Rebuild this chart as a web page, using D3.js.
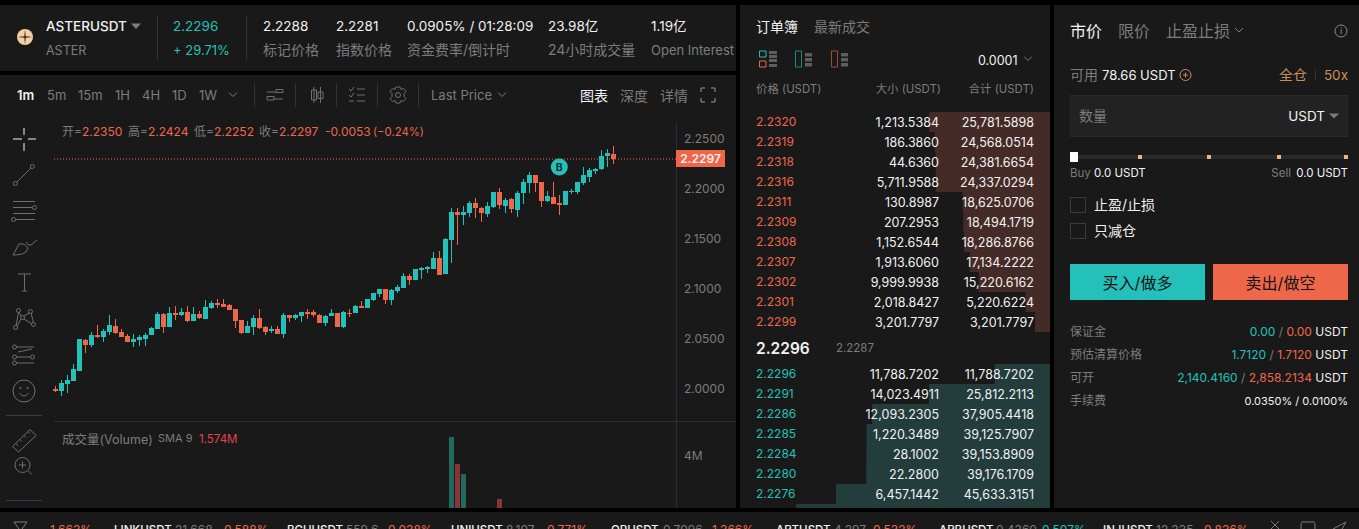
<!DOCTYPE html>
<html>
<head>
<meta charset="utf-8">
<script src="https://cdn.jsdelivr.net/npm/d3@7"></script>
<style>
  html, body { margin: 0; padding: 0; background: #000; overflow: hidden; }
  svg { display: block; }
  text { font-family: Inter, "Noto Sans CJK SC", sans-serif; white-space: pre; }
</style>
</head>
<body>
<svg id="root" width="1359" height="529"></svg>
<script>
// candles
const opens = [1.9997,1.9977,2.0047,2.0077,2.0177,2.0487,2.0437,2.0537,2.0517,2.0567,2.0627,2.0567,2.0527,2.0467,2.0487,2.0497,2.0537,2.0597,2.0747,2.0617,2.0757,2.0737,2.0767,2.0677,2.0747,2.0697,2.0807,2.0857,2.0847,2.0837,2.0797,2.0687,2.0557,2.0617,2.0707,2.0617,2.0577,2.0597,2.0547,2.0737,2.0707,2.0727,2.0767,2.0767,2.0737,2.0657,2.0727,2.0757,2.0617,2.0757,2.0757,2.0827,2.0807,2.0887,2.0947,2.0997,2.0887,2.0977,2.1007,2.1127,2.1087,2.1187,2.1197,2.1197,2.1307,2.1147,2.1487,2.1767,2.1737,2.1757,2.1857,2.1807,2.1747,2.1817,2.1967,2.1827,2.1897,2.1787,2.1957,2.2057,2.2137,2.2067,2.1877,2.1917,2.1857,2.1837,2.1967,2.1967,2.2057,2.2117,2.2177,2.2197,2.2327,2.2350];
const highs = [2.0027,2.0084,2.0134,2.0247,2.0497,2.0497,2.0567,2.0637,2.0594,2.0737,2.0697,2.0594,2.0544,2.0547,2.0537,2.0557,2.0617,2.0767,2.0757,2.0817,2.0827,2.0807,2.0827,2.0817,2.0777,2.0887,2.0877,2.0897,2.0897,2.0847,2.0797,2.0687,2.0677,2.0737,2.0797,2.0627,2.0627,2.0627,2.0757,2.0737,2.0747,2.0767,2.0797,2.0787,2.0747,2.0737,2.0797,2.0757,2.0777,2.0797,2.0837,2.0877,2.0897,2.0957,2.0997,2.0997,2.0997,2.1037,2.1157,2.1147,2.1197,2.1217,2.1227,2.1367,2.1377,2.1507,2.1807,2.1807,2.1827,2.1877,2.1907,2.1817,2.1867,2.1967,2.2007,2.1907,2.1907,2.1977,2.2097,2.2167,2.2137,2.2067,2.1977,2.2067,2.1937,2.1977,2.1997,2.2067,2.2217,2.2207,2.2207,2.2387,2.2397,2.2424];
const lows = [1.9967,1.9927,1.9957,2.0077,2.0177,2.0357,2.0417,2.0507,2.0467,2.0537,2.0547,2.0517,2.0467,2.0417,2.0427,2.0427,2.0537,2.0597,2.0557,2.0617,2.0687,2.0727,2.0667,2.0677,2.0697,2.0697,2.0797,2.0807,2.0817,2.0787,2.0607,2.0547,2.0557,2.0537,2.0597,2.0537,2.0557,2.0547,2.0507,2.0667,2.0687,2.0667,2.0697,2.0717,2.0657,2.0627,2.0727,2.0617,2.0607,2.0717,2.0757,2.0807,2.0807,2.0877,2.0917,2.0847,2.0837,2.0957,2.1007,2.1037,2.1087,2.1097,2.1157,2.1197,2.1137,2.1147,2.1257,2.1437,2.1637,2.1717,2.1707,2.1667,2.1717,2.1807,2.1797,2.1757,2.1757,2.1717,2.1847,2.1957,2.1967,2.1817,2.1867,2.1847,2.1737,2.1837,2.1947,2.1947,2.2037,2.2067,2.2147,2.2187,2.2217,2.2252];
const closes = [1.9977,2.0057,2.0087,2.0197,2.0497,2.0437,2.0537,2.0517,2.0577,2.0637,2.0557,2.0517,2.0467,2.0497,2.0517,2.0537,2.0607,2.0747,2.0617,2.0757,2.0737,2.0767,2.0677,2.0747,2.0707,2.0817,2.0857,2.0837,2.0817,2.0787,2.0677,2.0557,2.0627,2.0707,2.0607,2.0567,2.0597,2.0547,2.0737,2.0707,2.0737,2.0767,2.0747,2.0737,2.0657,2.0727,2.0757,2.0617,2.0767,2.0747,2.0827,2.0807,2.0897,2.0957,2.0997,2.0887,2.0987,2.1017,2.1127,2.1087,2.1197,2.1207,2.1217,2.1307,2.1137,2.1497,2.1767,2.1737,2.1767,2.1857,2.1807,2.1757,2.1827,2.1967,2.1837,2.1887,2.1797,2.1957,2.2067,2.2137,2.2057,2.1877,2.1927,2.1847,2.1837,2.1977,2.1977,2.2067,2.2137,2.2187,2.2197,2.2327,2.2357,2.2297];
const priceTicks = [2.25, 2.2, 2.15, 2.1, 2.05, 2.0];
const lastPrice = 2.2297;

// only these volume bars reach into the visible part of the pane
const volumeIndex = [66, 67, 68, 74];
const volumeValues = [4.72e6, 3.68e6, 3.3e6, 2.35e6];
const volumeTicks = [4e6];

// order book
const askPrices = ["2.2320","2.2319","2.2318","2.2316","2.2311","2.2309","2.2308","2.2307","2.2302","2.2301","2.2299"];
const askSizes = ["1,213.5384","186.3860","44.6360","5,711.9588","130.8987","207.2953","1,152.6544","1,913.6060","9,999.9938","2,018.8427","3,201.7797"];
const askTotals = [25781.5898,24568.0514,24381.6654,24337.0294,18625.0706,18494.1719,18286.8766,17134.2222,15220.6162,5220.6224,3201.7797];
const bidPrices = ["2.2296","2.2291","2.2286","2.2285","2.2284","2.2280","2.2276"];
const bidSizes = ["11,788.7202","14,023.4911","12,093.2305","1,220.3489","28.1002","22.2800","6,457.1442"];
const bidTotals = [11788.7202,25812.2113,37905.4418,39125.7907,39153.8909,39176.1709,45633.3151];
const nextBidTotal = 54160;

// header stats
const statValues = ["2.2288","2.2281","0.0905% / 01:28:09","23.98亿","1.19亿"];
const statNames = ["标记价格","指数价格","资金费率/倒计时","24小时成交量","Open Interest"];
const statX = [263, 336, 407, 548, 651];

const intervals = ["1m","5m","15m","1H","4H","1D","1W"];
const intervalX = [17, 47, 78, 115, 142, 172, 199];

// ticker strip
const tickerNames = ["LINKUSDT","BCHUSDT","UNIUSDT","OPUSDT","ARTUSDT","ARBUSDT","INJUSDT"];
const tickerPrices = ["21.668","559.6","8.107","0.7096","4.297","0.4360","12.335"];
const tickerChanges = ["0.588%","0.038%","0.771%","1.366%","0.532%","0.507%","0.836%"];
const tickerX = [[114,175,224],[287,346,388],[451,506,547],[611,663,712],[776,834,873],[939,996,1042],[1103,1156,1204]];

const GREEN = "#23c1b9", RED = "#ee674b", PANEL = "#191919", GREY = "#7c7c7c", WHITE = "#f2f2f2", TAN = "#c98f5a", ICON = "#6f6f6f";

const svg = d3.select("#root");

function label(parent, x, y, str, color, size, anchor, weight) {
    return parent.append("text")
        .attr("x", x)
        .attr("y", y)
        .attr("dy", "0.36em")
        .attr("fill", color)
        .attr("font-size", size + "px")
        .attr("font-weight", weight || 400)
        .attr("text-anchor", anchor || "start")
        .text(str);
}

function rect(parent, x, y, w, h, fill) {
    return parent.append("rect").attr("x", x).attr("y", y).attr("width", w).attr("height", h).attr("fill", fill);
}

function stroke(parent, d, color, width) {
    return parent.append("path").attr("d", d).attr("fill", "none").attr("stroke", color || ICON).attr("stroke-width", width || 1);
}

function ring(parent, cx, cy, r, color) {
    return parent.append("circle").attr("cx", cx).attr("cy", cy).attr("r", r).attr("fill", "none").attr("stroke", color || ICON);
}

function chevron(parent, x, y, color) {
    stroke(parent, `M${x} ${y - 2}L${x + 4} ${y + 2}L${x + 8} ${y - 2}`, color || GREY);
}

// panels
rect(svg, 0, 5, 736, 66, PANEL);
rect(svg, 0, 75, 736, 433, PANEL);
rect(svg, 740, 5, 310, 503, PANEL);
rect(svg, 1054, 5, 305, 503, PANEL);
rect(svg, 0, 512, 1359, 17, PANEL);

// header
const header = svg.append("g");
header.append("circle").attr("cx", 25).attr("cy", 37).attr("r", 8).attr("fill", "#f6cfa3");
header.append("path").attr("d", "M25 29.5L25.7 36.3L32.5 37L25.7 37.7L25 44.5L24.3 37.7L17.5 37L24.3 36.3Z").attr("fill", "#33291f");
label(header, 46, 26, "ASTERUSDT", WHITE, 13.5, "start", 500);
header.append("path").attr("d", "M131 23.5H141L136 29Z").attr("fill", GREY);
label(header, 46, 50, "ASTER", GREY, 12.5);
rect(header, 157, 16, 1, 44, "#333");
label(header, 173, 26, "2.2296", GREEN, 13.5);
label(header, 173, 50, "+ 29.71%", GREEN, 13);
rect(header, 246, 16, 1, 44, "#333");
statX.forEach((x, i) => {
    label(header, x, 26, statValues[i], WHITE, 13.5);
    label(header, x, 50, statNames[i], GREY, i == 4 ? 13 : 14);
});

// chart toolbar
const bar = svg.append("g");
intervals.forEach((d, i) => {
    label(bar, intervalX[i], 95.5, d, i == 0 ? WHITE : GREY, 13, "start", i == 0 ? 600 : 400);
});
chevron(bar, 229, 94.5);
[254, 295, 336, 377, 418].forEach(x => rect(bar, x, 83, 1, 24, "#333"));
stroke(bar, "M267 92H276M283 89.5V92.5H276V89.5H283ZM283 99H274M267 96.5H274V100H267Z");
stroke(bar, "M314 87V103M320.5 87V103M311.5 90H316.5V100H311.5ZM318 92H323V98.5H318Z");
stroke(bar, "M349 89L351 91L354 87M357 89H365M349 95L351 97L354 93M357 95H365M349 101H354M357 101H365");
// gear
stroke(bar, "M396 87H400L401 89.5L403.5 88.5L406 91.5L404 93.5V96.5L406 98.5L403.5 101.5L401 100.5L400 103H396L395 100.5L392.5 101.5L390 98.5L392 96.5V93.5L390 91.5L392.5 88.5L395 89.5Z");
ring(bar, 398, 95, 2.5);
label(bar, 431, 95.5, "Last Price", GREY, 13);
chevron(bar, 498, 94.5);
label(bar, 580, 95.5, "图表", WHITE, 14);
label(bar, 620, 95.5, "深度", GREY, 14);
label(bar, 660, 95.5, "详情", GREY, 14);
stroke(bar, "M701 92V88H705M711 88H715V92M715 98V102H711M705 102H701V98", "#999");

// left drawing tools
const tools = svg.append("g");
stroke(tools, "M13 139H22M28 139H36M24 128V135M24 143V151", WHITE);
ring(tools, 15.3, 183.5, 2);
ring(tools, 32.3, 166.5, 2);
stroke(tools, "M17 182L31 168");
stroke(tools, "M13 201.5H35M13 207.5H32M13 213.5H35M16 219.5H35");
ring(tools, 34.5, 207.5, 2);
ring(tools, 13.5, 219.5, 2);
stroke(tools, "M13 255L19 244Q25 243 28 248L26 252Q22 255 13 255ZM26 242Q28 246 31 245L37 240");
stroke(tools, "M18 274H31M24.5 274V291M22 291H27");
[[18.5, 310.5], [30.5, 311.5], [22.5, 317.5], [15.5, 327.5], [33.5, 324.5]].forEach(d => ring(tools, d[0], d[1], 2));
stroke(tools, "M18.5 312.5L16 325.5M19 312.5L21.5 316M29.5 313L24 316M24 319L32 324M31 313L33.5 322.5M21 319L17 326");
stroke(tools, "M16 347H34M16 357H30M16 363H34M18 352L32 349", ICON);
ring(tools, 14.5, 347, 2);
ring(tools, 14.5, 357, 2);
ring(tools, 32.5, 357, 2);
ring(tools, 14.5, 363, 2);
ring(tools, 24, 391, 11);
stroke(tools, "M19.5 393Q24 399 28.5 393");
tools.append("circle").attr("cx", 20.5).attr("cy", 388).attr("r", 1).attr("fill", ICON);
tools.append("circle").attr("cx", 27.5).attr("cy", 388).attr("r", 1).attr("fill", ICON);
rect(tools, 6, 415, 36, 1, "#3b3b46");
stroke(tools, "M12.5 446.5L30 429.5L36 435.5L18.5 452ZM16 443.5L18 446M20 439.5L22 441.5M24 435.5L26 437.5M28 431.5L30 433.5");
ring(tools, 22.5, 465, 7.5);
stroke(tools, "M19 465H26M22.5 461.5V468.5M28 470.5L32 474.5");
rect(tools, 6, 500, 36, 1, "#3b3b46");

// price scales
const x = d3.scaleLinear().domain([0, 93]).range([55.5, 613.5]);
const y = d3.scaleLinear().domain([2.0, 2.25]).range([388.7, 138.7]);
const yVolume = d3.scaleLinear().domain([0, 4e6]).range([559.7, 455.7]);

const chart = svg.append("g");
rect(chart, 676, 122, 1, 386, "#2e2e2e");
rect(chart, 54, 421, 682, 1, "#2e2e2e");

const priceAxis = d3.axisRight(y).tickValues(priceTicks).tickSize(0).tickPadding(8).tickFormat(d3.format(".4f"));
chart.append("g")
    .attr("transform", "translate(676,0)")
    .call(priceAxis)
    .call(g => g.select(".domain").remove())
    .call(g => g.selectAll("text").attr("fill", GREY).attr("font-size", "12px").attr("font-family", null));

// last price line
chart.append("line")
    .attr("x1", 54).attr("x2", 676)
    .attr("y1", y(lastPrice)).attr("y2", y(lastPrice))
    .attr("stroke", RED)
    .attr("stroke-dasharray", "1,2");

// candles
const candles = chart.selectAll(".candle")
    .data(d3.range(opens.length))
    .enter().append("g")
    .attr("class", "candle")
    .attr("shape-rendering", "crispEdges")
    .attr("fill", i => closes[i] >= opens[i] ? GREEN : RED);
candles.append("rect")
    .attr("x", i => x(i) - 0.5)
    .attr("y", i => y(highs[i]))
    .attr("width", 1)
    .attr("height", i => y(lows[i]) - y(highs[i]));
candles.append("rect")
    .attr("x", i => x(i) - 2.5)
    .attr("y", i => y(Math.max(opens[i], closes[i])))
    .attr("width", 5)
    .attr("height", i => Math.max(1, Math.abs(y(opens[i]) - y(closes[i]))));

// buy marker
chart.append("circle").attr("cx", x(84) - 0.2).attr("cy", 167).attr("r", 8.5).attr("fill", GREEN);
label(chart, x(84) - 0.2, 167, "B", "#0f2b2a", 10.5, "middle", 700);

// price tag
rect(chart, 676, 150, 49, 17, RED);
label(chart, 700.5, 158.7, "2.2297", WHITE, 12, "middle", 600);

// ohlc legend
const legendKeys = ["开=", "高=", "低=", "收="];
const legendVals = [opens[93], highs[93], lows[93], closes[93]];
const legendX = [62, 128, 194, 259];
legendKeys.forEach((k, i) => {
    const t = label(chart, legendX[i], 132, k, GREY, 12);
    t.append("tspan").attr("fill", RED).text(legendVals[i].toFixed(4));
});
label(chart, 325, 132, "-0.0053", RED, 12);
label(chart, 373, 132, "(−0.24%)", RED, 11.3);

// volume pane
label(chart, 62, 439, "成交量(Volume)", GREY, 12.5);
label(chart, 158, 438, "SMA 9", GREY, 11);
label(chart, 199, 439, "1.574M", "#e8414f", 11.5);
const volAxis = d3.axisRight(yVolume).tickValues(volumeTicks).tickSize(0).tickPadding(8).tickFormat(d => (d / 1e6) + "M");
chart.append("g")
    .attr("transform", "translate(676,0)")
    .call(volAxis)
    .call(g => g.select(".domain").remove())
    .call(g => g.selectAll("text").attr("fill", GREY).attr("font-size", "12px").attr("font-family", null));

svg.append("clipPath").attr("id", "vol-clip").append("rect").attr("x", 54).attr("y", 422).attr("width", 622).attr("height", 86);
chart.append("g")
    .attr("clip-path", "url(#vol-clip)")
    .selectAll("rect")
    .data(volumeIndex)
    .enter().append("rect")
    .attr("shape-rendering", "crispEdges")
    .attr("x", d => x(d) - 2.5)
    .attr("y", (d, i) => yVolume(volumeValues[i]))
    .attr("width", 5)
    .attr("height", (d, i) => yVolume(0) - yVolume(volumeValues[i]))
    .attr("fill", d => closes[d] >= opens[d] ? "#1f6a5f" : "#8a3438");

// order book
const book = svg.append("g");
label(book, 756, 27, "订单簿", WHITE, 14);
label(book, 814, 27, "最新成交", GREY, 14);
stroke(book, "M759.5 51H766V57H759.5Z", GREEN);
stroke(book, "M759.5 61H766V67H759.5Z", RED);
stroke(book, "M795.5 51H801.5V67H795.5Z", "#1d8a82");
stroke(book, "M831.5 51H837.5V67H831.5Z", "#a04a38");
[[769, 777], [805, 812], [841, 848]].forEach(d => {
    (d[0] == 769 ? [51, 55, 59, 64] : [53, 58, 63]).forEach(t => {
        rect(book, d[0], t, d[1] - d[0], d[0] == 769 ? 3 : 3.5, "#5e5e5e");
    });
});
label(book, 978, 60, "0.0001", WHITE, 12.5);
chevron(book, 1024, 58.5);
label(book, 756, 89, "价格 (USDT)", GREY, 11.4);
label(book, 941, 89, "大小 (USDT)", GREY, 11.4, "end");
label(book, 1034, 89, "合计 (USDT)", GREY, 11.4, "end");

const depth = d3.scaleLinear().domain([0, bidTotals[bidTotals.length - 1]]).range([0, 214]);
const askRow = d3.scaleBand().domain(d3.range(askPrices.length)).range([112, 332]);
const bidRow = d3.scaleBand().domain(d3.range(bidPrices.length + 1)).range([364, 524]);

book.selectAll(".ask-bar")
    .data(askTotals)
    .enter().append("rect")
    .attr("class", "ask-bar")
    .attr("x", d => 1050 - depth(d))
    .attr("y", (d, i) => askRow(i))
    .attr("width", d => depth(d))
    .attr("height", askRow.bandwidth())
    .attr("fill", "#452b27");

svg.append("clipPath").attr("id", "book-clip").append("rect").attr("x", 740).attr("y", 5).attr("width", 310).attr("height", 503);
book.append("g")
    .attr("clip-path", "url(#book-clip)")
    .selectAll(".bid-bar")
    .data(bidTotals.concat([nextBidTotal]))
    .enter().append("rect")
    .attr("class", "bid-bar")
    .attr("x", d => 1050 - depth(d))
    .attr("y", (d, i) => bidRow(i))
    .attr("width", d => depth(d))
    .attr("height", bidRow.bandwidth())
    .attr("fill", "#233c3c");

const numFmt = d3.format(",.4f");
askPrices.forEach((p, i) => {
    const cy = askRow(i) + 10;
    label(book, 756, cy, p, RED, 12);
    label(book, 939, cy, askSizes[i], WHITE, 12.5, "end");
    label(book, 1034, cy, numFmt(askTotals[i]), WHITE, 12.5, "end");
});
bidPrices.forEach((p, i) => {
    const cy = bidRow(i) + 10;
    label(book, 756, cy, p, GREEN, 12);
    label(book, 939, cy, bidSizes[i], WHITE, 12.5, "end");
    label(book, 1034, cy, numFmt(bidTotals[i]), WHITE, 12.5, "end");
});
label(book, 756, 348, "2.2296", WHITE, 15.5, "start", 600);
label(book, 836, 348, "2.2287", GREY, 11.5);

// order form
const form = svg.append("g");
label(form, 1070, 31, "市价", WHITE, 16);
label(form, 1118, 31, "限价", GREY, 16);
label(form, 1166, 31, "止盈止损", GREY, 16);
chevron(form, 1235, 30, GREY);
ring(form, 1341, 31, 6, "#8a8a8a");
label(form, 1341, 31, "i", "#8a8a8a", 9, "middle");
label(form, 1070, 75, "可用", GREY, 14);
label(form, 1102, 75, "78.66 USDT", WHITE, 13);
ring(form, 1185.5, 75, 5.5, TAN);
stroke(form, "M1183 75H1188M1185.5 72.5V77.5", TAN);
label(form, 1279, 75, "全仓", TAN, 14);
rect(form, 1315, 69, 1, 12, "#333");
label(form, 1348, 75, "50x", TAN, 13.5, "end");
rect(form, 1070.5, 95.5, 277, 41, "#222").attr("stroke", "#2b2b2b");
label(form, 1079, 116, "数量", GREY, 14);
label(form, 1325, 116, "USDT", WHITE, 13.5, "end");
form.append("path").attr("d", "M1329 113.5H1339L1334 118.5Z").attr("fill", GREY);
rect(form, 1070, 155, 278, 4, "#2a2a2a");
[1140, 1209, 1279, 1346].forEach(d => rect(form, d - 2, 155, 4, 4, "#f0b77c"));
rect(form, 1070, 152, 8, 10, "#fff");
label(form, 1070, 173, "Buy", GREY, 11.5);
label(form, 1094, 173, "0.0 USDT", WHITE, 11.5);
label(form, 1348, 173, "0.0 USDT", WHITE, 11.5, "end");
label(form, 1291, 173, "Sell", GREY, 11.5, "end");
rect(form, 1070.5, 197.5, 15, 15, "none").attr("stroke", "#3a3a3a");
rect(form, 1070.5, 223.5, 15, 15, "none").attr("stroke", "#3a3a3a");
label(form, 1094, 205, "止盈/止损", WHITE, 14);
label(form, 1094, 231, "只减仓", WHITE, 14);
rect(form, 1070, 264, 135, 36, GREEN);
rect(form, 1213, 264, 135, 36, RED);
label(form, 1137.5, 283, "买入/做多", "#111", 16, "middle");
label(form, 1280.5, 283, "卖出/做空", "#111", 16, "middle");

const infoNames = ["保证金", "预估清算价格", "可开", "手续费"];
const infoLong = ["0.00", "1.7120", "2,140.4160"];
const infoShort = ["0.00", "1.7120", "2,858.2134"];
const infoY = [331.7, 354.7, 378, 401];
infoNames.forEach((d, i) => label(form, 1070, infoY[i], d, GREY, 12));
infoLong.forEach((d, i) => {
    const t = label(form, 1348, infoY[i], "", WHITE, 12, "end");
    t.append("tspan").attr("fill", GREEN).text(d);
    t.append("tspan").attr("fill", GREY).text(" / ");
    t.append("tspan").attr("fill", RED).text(infoShort[i]);
    t.append("tspan").attr("fill", WHITE).text(" USDT");
});
label(form, 1348, infoY[3], "0.0350% / 0.0100%", WHITE, 11, "end");

// ticker strip, cut by the window edge as in the picture
const ticker = svg.append("g");
label(ticker, 50, 530, "1.663%", RED, 12);
tickerNames.forEach((d, i) => {
    label(ticker, tickerX[i][0], 530, d, WHITE, 11.5, "start", 500);
    label(ticker, tickerX[i][1], 530, tickerPrices[i], GREY, 12);
    label(ticker, tickerX[i][2], 530, tickerChanges[i], i == 5 ? GREEN : RED, 12);
});
stroke(ticker, "M14 522H27L22 529M14 522L19 529", GREY);
stroke(ticker, "M1271 521L1279 529M1279 521L1271 529", GREY);
stroke(ticker, "M1301 529V525Q1301 521 1304 522H1312Q1315 521 1315 525V529", GREY);
stroke(ticker, "M1333 529L1346 522L1342 529", GREY);
</script>
</body>
</html>
